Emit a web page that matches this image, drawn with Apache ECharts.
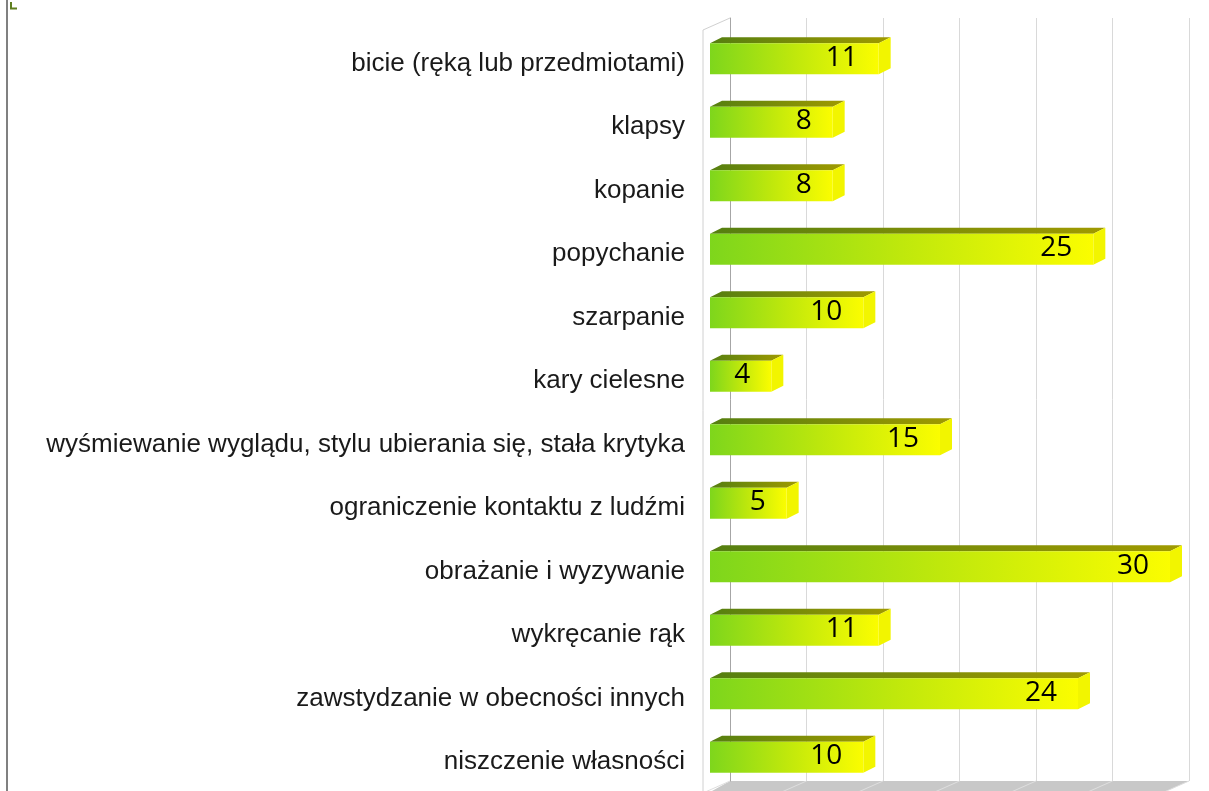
<!DOCTYPE html>
<html>
<head>
<meta charset="utf-8">
<script src="https://cdn.jsdelivr.net/npm/echarts@6/dist/echarts.min.js"></script>
<style>
  html, body { margin: 0; padding: 0; background: #fff; }
  #chart { width: 1209px; height: 791px; }
</style>
</head>
<body>
<div id="chart"></div>
<script>
// dane z wykresu (kolejność od góry)
const categories = [
  'bicie (ręką lub przedmiotami)',
  'klapsy',
  'kopanie',
  'popychanie',
  'szarpanie',
  'kary cielesne',
  'wyśmiewanie wyglądu, stylu ubierania się, stała krytyka',
  'ograniczenie kontaktu z ludźmi',
  'obrażanie i wyzywanie',
  'wykręcanie rąk',
  'zawstydzanie w obecności innych',
  'niszczenie własności',
];
const values = [11, 8, 8, 25, 10, 4, 15, 5, 30, 11, 24, 10];
const axisMax = 30;
const axisStep = 5;

// głębokość "3D" słupka
const DEPTH_X = 12;
const DEPTH_Y = -6;

const chart = echarts.init(document.getElementById('chart'));

function renderBar(params, api) {
  const v = api.value(0);
  const c = api.value(1);
  const start = api.coord([0, c]);
  const end = api.coord([v, c]);
  const h = api.size([0, 1])[1] * 0.49;
  const x0 = start[0];
  const x1 = end[0];
  const y0 = start[1] - h / 2;
  const y1 = start[1] + h / 2;

  return {
    type: 'group',
    children: [
      {
        type: 'polygon',
        shape: {
          points: [[x0, y0], [x0 + DEPTH_X, y0 + DEPTH_Y], [x1 + DEPTH_X, y0 + DEPTH_Y], [x1, y0]],
        },
        style: {
          fill: new echarts.graphic.LinearGradient(0, 0, 1, 0, [
            { offset: 0, color: '#557f10' },
            { offset: 1, color: '#a09a00' },
          ]),
        },
      },
      {
        type: 'polygon',
        shape: {
          points: [[x1, y0], [x1 + DEPTH_X, y0 + DEPTH_Y], [x1 + DEPTH_X, y1 + DEPTH_Y], [x1, y1]],
        },
        style: { fill: '#f2f500' },
      },
      {
        type: 'rect',
        shape: { x: x0, y: y0, width: x1 - x0, height: h },
        style: {
          fill: new echarts.graphic.LinearGradient(0, 0, 1, 0, [
            { offset: 0, color: '#7ed61c' },
            { offset: 0.5, color: '#bfe80c' },
            { offset: 1, color: '#fbfd00' },
          ]),
        },
      },
      {
        type: 'text',
        style: {
          text: String(v),
          x: x1 - 21,
          y: start[1] - 1,
          align: 'right',
          verticalAlign: 'middle',
          fontFamily: 'Open Sans',
          fontSize: 28,
          fill: '#000',
        },
      },
    ],
  };
}

// tło 3D: podłoga i lewa ściana
const backLeft = 730, backRight = 1189, backTop = 18, floorY = 781;
const frontLeft = 703, frontBottom = 796;
const floorDx = (backLeft - frontLeft) * (frontBottom - floorY) / 12;
const floorLines = [];
for (let v = 0; v <= axisMax; v += axisStep) {
  const xb = backLeft + (backRight - backLeft) * v / axisMax;
  floorLines.push({
    type: 'line',
    shape: { x1: xb, y1: floorY, x2: xb - floorDx, y2: frontBottom },
    style: { stroke: '#dedede', lineWidth: 1 },
    z: 1,
  });
}

const option = {
  animation: false,
  backgroundColor: '#fff',
  grid: [
    { left: 710, right: 39, top: 27, bottom: 2 },
    { left: backLeft, right: 1209 - backRight, top: backTop, bottom: 791 - floorY },
  ],
  xAxis: [
    {
      gridIndex: 0,
      type: 'value',
      min: 0,
      max: axisMax,
      interval: axisStep,
      show: false,
    },
    {
      gridIndex: 1,
      type: 'value',
      min: 0,
      max: axisMax,
      interval: axisStep,
      axisLine: { show: false },
      axisTick: { show: false },
      axisLabel: { show: false },
      splitLine: { show: true, lineStyle: { color: '#d9d9d9', width: 1 } },
    },
  ],
  yAxis: [
    {
      gridIndex: 0,
      type: 'category',
      data: categories,
      inverse: true,
      axisLine: { show: false },
      axisTick: { show: false },
      splitLine: { show: false },
      axisLabel: {
        margin: 25,
        fontFamily: 'Liberation Sans',
        fontSize: 26,
        color: '#1a1a1a',
        verticalAlign: 'top',
        lineHeight: 10,
      },
    },
    {
      gridIndex: 1,
      type: 'value',
      position: 'right',
      axisLine: { show: true, lineStyle: { color: '#a6a6a6' } },
      axisTick: { show: false },
      axisLabel: { show: false },
      splitLine: { show: false },
    },
  ],
  series: [
    {
      type: 'custom',
      xAxisIndex: 0,
      yAxisIndex: 0,
      data: values.map((v, i) => [v, i]),
      encode: { x: 0, y: 1 },
      renderItem: renderBar,
      z: 5,
    },
  ],
  graphic: [
    // lewa krawędź obrazka
    { type: 'rect', shape: { x: 6, y: 0, width: 2, height: 791 }, style: { fill: '#808080' } },
    { type: 'polyline', shape: { points: [[11, 2], [11, 8.5], [17, 8.5]] }, style: { stroke: '#5f7f1f', lineWidth: 2, fill: null } },
    // podłoga
    {
      type: 'polygon',
      shape: { points: [[backLeft, floorY], [backRight, floorY], [backRight - floorDx, frontBottom], [frontLeft, frontBottom]] },
      style: { fill: '#c8c8c8' },
      z: 0,
    },
    ...floorLines,
    // lewa ściana
    { type: 'line', shape: { x1: frontLeft, y1: backTop + 12, x2: backLeft, y2: backTop }, style: { stroke: '#d0d0d0' } },
    { type: 'line', shape: { x1: frontLeft, y1: backTop + 12, x2: frontLeft, y2: 791 }, style: { stroke: '#d0d0d0' } },
  ],
};

chart.setOption(option);
</script>
</body>
</html>
